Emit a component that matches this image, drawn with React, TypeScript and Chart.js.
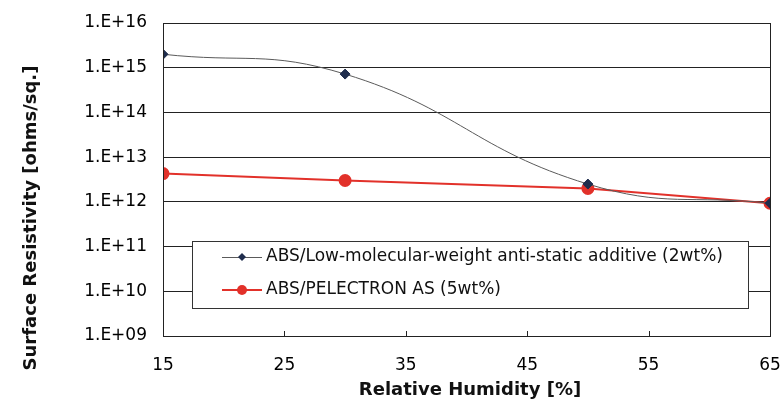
import React, { useEffect, useRef } from "react";
import { Chart, registerables } from "chart.js";

Chart.register(...registerables);

const humidity = [15, 30, 50, 65];
const lowMolecularValues = [2.0e15, 7.2e14, 2.5e12, 9.3e11];
const pelectronValues = [4.3e12, 3.0e12, 2.0e12, 9.3e11];
const yTickValues = [1e9, 1e10, 1e11, 1e12, 1e13, 1e14, 1e15, 1e16];
const xTickValues = [15, 25, 35, 45, 55, 65];
const seriesNames = [
  "ABS/Low-molecular-weight anti-static additive (2wt%)",
  "ABS/PELECTRON AS (5wt%)",
];
const xTitle = "Relative Humidity [%]";
const yTitle = "Surface Resistivity [ohms/sq.]";

const FONT = "'DejaVu Sans', sans-serif";
const BLUE_MARK = "#1f2d4d";
const BLUE_LINE = "#5a5a5a";
const RED = "#e2312a";

function fmtExp(v: number): string {
  const e = Math.round(Math.log10(v));
  return "1.E+" + (e < 10 ? "0" + e : String(e));
}

const framePlugin = {
  id: "frameAndExtras",
  afterDatasetsDraw(chart: any) {
    const { ctx, chartArea } = chart;
    ctx.save();
    ctx.strokeStyle = "#222";
    ctx.lineWidth = 1;
    ctx.strokeRect(
      Math.round(chartArea.left) + 0.5,
      Math.round(chartArea.top) + 0.5,
      Math.round(chartArea.right - chartArea.left),
      Math.round(chartArea.bottom - chartArea.top)
    );
    // small inward tick marks on x axis
    const xs = chart.scales.x;
    ctx.beginPath();
    xTickValues.forEach((v) => {
      const px = Math.round(xs.getPixelForValue(v)) + 0.5;
      ctx.moveTo(px, chartArea.bottom);
      ctx.lineTo(px, chartArea.bottom - 5);
    });
    ctx.stroke();
    // legend box
    const lx = 192, ly = 241, lw = 556, lh = 67;
    ctx.fillStyle = "#fff";
    ctx.fillRect(lx, ly, lw, lh);
    ctx.strokeStyle = "#333";
    ctx.strokeRect(lx + 0.5, ly + 0.5, lw, lh);
    const rows = [257, 290];
    ctx.strokeStyle = BLUE_LINE;
    ctx.lineWidth = 1;
    ctx.beginPath();
    ctx.moveTo(222, rows[0] + 0.5);
    ctx.lineTo(262, rows[0] + 0.5);
    ctx.stroke();
    ctx.fillStyle = BLUE_MARK;
    ctx.beginPath();
    ctx.moveTo(242, rows[0] - 4);
    ctx.lineTo(246, rows[0]);
    ctx.lineTo(242, rows[0] + 4);
    ctx.lineTo(238, rows[0]);
    ctx.closePath();
    ctx.fill();
    ctx.strokeStyle = RED;
    ctx.lineWidth = 2;
    ctx.beginPath();
    ctx.moveTo(222, rows[1]);
    ctx.lineTo(262, rows[1]);
    ctx.stroke();
    ctx.fillStyle = RED;
    ctx.beginPath();
    ctx.arc(242, rows[1], 5, 0, Math.PI * 2);
    ctx.fill();
    ctx.fillStyle = "#111";
    ctx.font = "17px " + FONT;
    ctx.textBaseline = "middle";
    ctx.textAlign = "left";
    ctx.fillText(seriesNames[0], 266, rows[0]);
    ctx.fillText(seriesNames[1], 266, rows[1]);
    ctx.font = "bold 18px " + FONT;
    ctx.textAlign = "center";
    ctx.fillText(xTitle, 470, 390);
    ctx.translate(31, 218);
    ctx.rotate(-Math.PI / 2);
    ctx.fillText(yTitle, 0, 0);
    ctx.restore();
  },
};

export default function App() {
  const ref = useRef<HTMLCanvasElement | null>(null);
  useEffect(() => {
    if (!ref.current) return;
    const chart = new Chart(ref.current, {
      type: "line",
      data: {
        datasets: [
          {
            label: seriesNames[0],
            data: humidity.map((x, i) => ({ x, y: lowMolecularValues[i] })),
            borderColor: BLUE_LINE,
            borderWidth: 1,
            backgroundColor: BLUE_MARK,
            pointBackgroundColor: BLUE_MARK,
            pointBorderColor: BLUE_MARK,
            pointStyle: "rectRot",
            pointRadius: 5,
            tension: 0.45,
          },
          {
            label: seriesNames[1],
            data: humidity.map((x, i) => ({ x, y: pelectronValues[i] })),
            borderColor: RED,
            borderWidth: 2,
            backgroundColor: RED,
            pointBackgroundColor: RED,
            pointBorderColor: RED,
            pointStyle: "circle",
            pointRadius: 5.5,
            tension: 0,
          },
        ],
      },
      options: {
        responsive: false,
        animation: false,
        layout: { padding: { left: 0, right: 13, top: 23, bottom: 0 } },
        plugins: {
          legend: { display: false },
          tooltip: { enabled: false },
        },
        scales: {
          x: {
            type: "linear",
            min: 15,
            max: 65,
            afterBuildTicks: (s: any) => {
              s.ticks = xTickValues.map((v) => ({ value: v }));
            },
            afterFit: (s: any) => {
              s.height = 67;
              s.paddingLeft = 0;
              s.paddingRight = 0;
            },
            grid: { display: false, drawTicks: false },
            border: { display: true, color: "#222" },
            ticks: {
              padding: 19,
              color: "#000",
              font: { family: FONT, size: 17 },
              maxRotation: 0,
              autoSkip: false,
            },
          },
          y: {
            type: "logarithmic",
            min: 1e9,
            max: 1e16,
            afterBuildTicks: (s: any) => {
              s.ticks = yTickValues.map((v) => ({ value: v }));
            },
            afterFit: (s: any) => {
              s.width = 163;
              s.paddingTop = 0;
              s.paddingBottom = 0;
            },
            grid: { color: "#222", lineWidth: 1, drawTicks: false },
            border: { display: true, color: "#222" },
            ticks: {
              padding: 16,
              color: "#000",
              font: { family: FONT, size: 17 },
              autoSkip: false,
              callback: (v: any) => fmtExp(Number(v)),
            },
          },
        },
      },
      plugins: [framePlugin],
    });
    return () => chart.destroy();
  }, []);
  return (
    <div style={{ position: "fixed", left: 0, top: 0, width: 783, height: 403, background: "#fff" }}>
      <canvas ref={ref} width={783} height={403} style={{ width: 783, height: 403 }} />
    </div>
  );
}
